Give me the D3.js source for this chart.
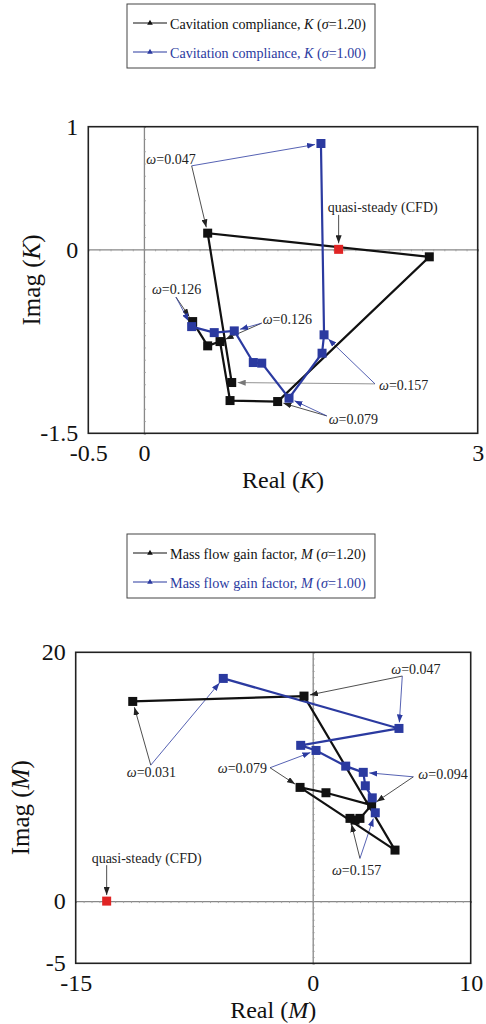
<!DOCTYPE html>
<html><head><meta charset="utf-8">
<script src="https://cdn.jsdelivr.net/npm/d3@7"></script>
<style>
body{margin:0;background:#fff}
svg{display:block}
text{font-family:"Liberation Serif","Times New Roman",serif}
</style>
</head><body>
<script>
// --- data ---
// cavitation compliance K
var kReal120 = [0.438, 0.573, 0.684, 0.774, 1.202, 2.565, 0.573, 0.789];
var kImag120 = [-0.589, -0.787, -0.752, -1.233, -1.241, -0.061, 0.132, -1.086];
var kReal100 = [1.591, 1.619, 1.601, 1.304, 1.059, 0.983, 0.812, 0.632, 0.429];
var kImag100 = [0.863, -0.697, -0.847, -1.214, -0.928, -0.923, -0.665, -0.679, -0.630];
var kQuasi = [1.75, 0];
var kTicksX = [-0.5, 0, 3], kTicksY = [-1.5, 0, 1];

// mass flow gain factor M
var mReal120 = [-11.39, -0.55, 5.21, -0.80, 0.84, 3.73, 2.99, 2.68, 2.36];
var mImag120 = [16.05, 16.48, 4.10, 9.14, 8.71, 7.72, 6.65, 6.51, 6.65];
var mReal100 = [-5.66, 5.46, -0.76, 0.21, 2.09, 3.20, 3.33, 3.77, 3.96];
var mImag100 = [17.90, 13.88, 12.52, 12.11, 10.85, 10.35, 9.27, 8.30, 7.10];
var mQuasi = [-13.04, 0];
var mTicksX = [-15, 0, 10], mTicksY = [-5, 0, 20];

// annotation labels: omega value, anchor (data units), target points
var kNotes = [
  {w: "0.047", at: [0.429, 0.681], dx: 4, dy: -2, anchor: "end", to: [["b", 0], ["k", 6]]},
  {w: "0.126", at: [0.288, -0.39], dx: -24, dy: -3, anchor: "start", to: [["k", 0], ["b", 8]]},
  {w: "0.126", at: [1.058, -0.602], dx: 1, dy: 1, anchor: "start", to: [["k", 2], ["b", 6]]},
  {w: "0.157", at: [2.077, -1.097], dx: 4, dy: 6, anchor: "start", to: [["k", 7, "#777"], ["b", 1]]},
  {w: "0.079", at: [1.643, -1.358], dx: 2, dy: 8, anchor: "start", to: [["k", 4], ["b", 3]]}
];
var kQuasiNote = {at: [1.75, 0.281], dx: -11, dy: -3};

var mNotes = [
  {w: "0.047", at: [5.67, 18.09], dx: -11, dy: -2, anchor: "start", to: [["k", 1], ["b", 1]]},
  {w: "0.031", at: [-10.25, 10.93], dx: -24, dy: 12, anchor: "start", to: [["k", 0], ["b", 0]]},
  {w: "0.079", at: [-2.70, 10.72], dx: -3, dy: 5, anchor: "end", to: [["b", 3], ["k", 3]]},
  {w: "0.094", at: [6.37, 9.99], dx: 5, dy: 2, anchor: "start", to: [["b", 5], ["k", 5]]},
  {w: "0.157", at: [2.99, 3.43], dx: -28, dy: 17, anchor: "start", to: [["k", 8], ["b", 8]]}
];
var mQuasiNote = {at: [-13.04, 2.89], dx: -15, dy: -2};

var BLACK = "#111", BLUE = "#2b3aa0", RED = "#e02424";

var svg = d3.select("body").append("svg").attr("width", 486).attr("height", 1024);

var defs = svg.append("defs");
[["ah-k", "#222"], ["ah-g", "#777"], ["ah-b", BLUE]].forEach(function(a) {
  defs.append("marker").attr("id", a[0])
    .attr("markerUnits", "userSpaceOnUse")
    .attr("markerWidth", 8).attr("markerHeight", 6)
    .attr("refX", 8).attr("refY", 3).attr("orient", "auto")
    .append("path").attr("d", "M0,0L8,3L0,6z").attr("fill", a[1]);
});

function zip(a, b) { return a.map(function(v, i) { return [v, b[i]]; }); }

function legend(y0, name, sym) {
  var g = svg.append("g");
  g.append("rect").attr("x", 127).attr("y", y0).attr("width", 248).attr("height", 64)
    .attr("fill", "none").attr("stroke", "#444").attr("stroke-width", 1);
  [["1.20", BLACK, 19], ["1.00", BLUE, 48]].forEach(function(r) {
    var yy = y0 + r[2];
    g.append("line").attr("x1", 133).attr("x2", 167).attr("y1", yy).attr("y2", yy)
      .attr("stroke", r[1]).attr("stroke-width", 1.2);
    g.append("path").attr("d", d3.symbol(d3.symbolTriangle, 14)())
      .attr("transform", "translate(150," + yy + ")").attr("fill", r[1]);
    var t = g.append("text").attr("x", 170).attr("y", yy + 6).attr("font-size", 16).attr("fill", r[1]);
    t.append("tspan").text(name + ", ");
    t.append("tspan").attr("font-style", "italic").text(sym);
    t.append("tspan").text(" (");
    t.append("tspan").attr("font-style", "italic").text("\u03c3");
    t.append("tspan").text("=" + r[0] + ")");
    // fit the label to the width seen in the figure
    var w = t.node().getComputedTextLength();
    if (w > 0) t.attr("font-size", Math.min(18, 16 * 196 / w));
  });
}

function panel(c) {
  var x = d3.scaleLinear().domain(c.xd).range([c.l, c.r]);
  var y = d3.scaleLinear().domain(c.yd).range([c.b, c.t]);
  var g = svg.append("g");

  // zero lines with small minor ticks
  var zx = g.append("g").attr("transform", "translate(0," + y(0) + ")")
    .call(d3.axisBottom(x).tickValues(d3.range(c.xd[0], c.xd[1] + 1e-9, c.mx)).tickSize(2).tickFormat(""));
  var zy = g.append("g").attr("transform", "translate(" + x(0) + ",0)")
    .call(d3.axisRight(y).tickValues(d3.range(c.yd[0], c.yd[1] + 1e-9, c.my)).tickSize(2).tickFormat(""));
  [zx, zy].forEach(function(a) {
    a.select(".domain").attr("stroke", "#888").attr("stroke-width", 1.3);
    a.selectAll(".tick line").attr("stroke", "#999").attr("stroke-width", 0.8);
  });

  // frame
  g.append("rect").attr("x", c.l).attr("y", c.t).attr("width", c.r - c.l).attr("height", c.b - c.t)
    .attr("fill", "none").attr("stroke", "#222").attr("stroke-width", 1.6);

  // tick labels
  var ax = g.append("g").attr("transform", "translate(0," + c.b + ")")
    .call(d3.axisBottom(x).tickValues(c.tx).tickSize(0).tickPadding(c.xpad).tickFormat(String));
  var ay = g.append("g").attr("transform", "translate(" + c.l + ",0)")
    .call(d3.axisLeft(y).tickValues(c.ty).tickSize(0).tickPadding(10).tickFormat(String));
  [ax, ay].forEach(function(a) {
    a.select(".domain").remove();
    a.selectAll("text").attr("font-size", 24).attr("fill", "#111");
  });

  // axis titles
  var xt = g.append("text").attr("x", (c.l + c.r) / 2).attr("y", c.xtY)
    .attr("text-anchor", "middle").attr("font-size", 24).attr("fill", "#111");
  xt.append("tspan").text("Real (");
  xt.append("tspan").attr("font-style", "italic").text(c.sym);
  xt.append("tspan").text(")");
  var yt = g.append("text").attr("transform", "translate(" + c.ytX + "," + (c.t + c.b) / 2 + ") rotate(-90)")
    .attr("text-anchor", "middle").attr("dy", "0.35em").attr("font-size", 25).attr("fill", "#111");
  yt.append("tspan").text("Imag (");
  yt.append("tspan").attr("font-style", "italic").text(c.sym);
  yt.append("tspan").text(")");

  var pts = {k: zip(c.k[0], c.k[1]), b: zip(c.bl[0], c.bl[1])};
  var line = d3.line().x(function(d) { return x(d[0]); }).y(function(d) { return y(d[1]); });

  // annotations (drawn under the series)
  var ng = g.append("g");
  function arrow(x0, y0, p, col, id) {
    var x1 = x(p[0]), y1 = y(p[1]);
    var dx = x1 - x0, dy = y1 - y0, len = Math.sqrt(dx * dx + dy * dy);
    var sh = 6;
    ng.append("line").attr("x1", x0).attr("y1", y0)
      .attr("x2", x1 - dx / len * sh).attr("y2", y1 - dy / len * sh)
      .attr("stroke", col).attr("stroke-width", 0.8).attr("marker-end", "url(#" + id + ")");
  }
  c.notes.forEach(function(n) {
    var ax0 = x(n.at[0]), ay0 = y(n.at[1]);
    n.to.forEach(function(t) {
      var col = t[2] || (t[0] === "b" ? BLUE : "#222");
      var id = t[2] ? "ah-g" : (t[0] === "b" ? "ah-b" : "ah-k");
      arrow(ax0, ay0, pts[t[0]][t[1]], col, id);
    });
    var tx = ng.append("text").attr("x", ax0 + n.dx).attr("y", ay0 + n.dy)
      .attr("text-anchor", n.anchor).attr("font-size", 14).attr("fill", "#222");
    tx.append("tspan").attr("font-style", "italic").text("\u03c9");
    tx.append("tspan").text("=" + n.w);
  });
  var qx = x(c.qn.at[0]), qy = y(c.qn.at[1]);
  arrow(qx, qy, c.q, "#222", "ah-k");
  ng.append("text").attr("x", qx + c.qn.dx).attr("y", qy + c.qn.dy)
    .attr("font-size", 14).attr("fill", "#222").text("quasi-steady (CFD)");

  // series
  [["k", BLACK], ["b", BLUE]].forEach(function(s) {
    g.append("path").datum(pts[s[0]]).attr("d", line)
      .attr("fill", "none").attr("stroke", s[1]).attr("stroke-width", 2.2);
  });
  [["k", BLACK], ["b", BLUE]].forEach(function(s) {
    g.selectAll(null).data(pts[s[0]]).enter().append("rect")
      .attr("x", function(d) { return x(d[0]) - 4.5; })
      .attr("y", function(d) { return y(d[1]) - 4.5; })
      .attr("width", 9).attr("height", 9).attr("fill", s[1]);
  });
  g.append("rect").attr("x", x(c.q[0]) - 4.5).attr("y", y(c.q[1]) - 4.5)
    .attr("width", 9).attr("height", 9).attr("fill", RED);
}

legend(4, "Cavitation compliance", "K");
panel({xd: [-0.5, 3], yd: [-1.5, 1], l: 88.3, r: 477.7, t: 126.7, b: 433.3,
  mx: 0.1, my: 0.1, tx: kTicksX, ty: kTicksY, xpad: 11, xtY: 488, ytX: 31, sym: "K",
  k: [kReal120, kImag120], bl: [kReal100, kImag100], q: kQuasi, notes: kNotes, qn: kQuasiNote});

legend(534, "Mass flow gain factor", "M");
panel({xd: [-15, 10], yd: [-5, 20], l: 75.7, r: 470.7, t: 652.3, b: 963.3,
  mx: 0.5, my: 0.5, tx: mTicksX, ty: mTicksY, xpad: 11, xtY: 1018, ytX: 20, sym: "M",
  k: [mReal120, mImag120], bl: [mReal100, mImag100], q: mQuasi, notes: mNotes, qn: mQuasiNote});
</script>
</body></html>
